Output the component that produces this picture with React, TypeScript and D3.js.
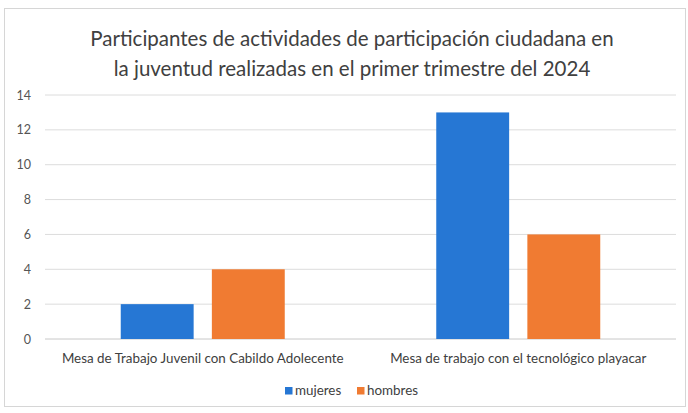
import * as d3 from "d3";
import React from "react";

const categories = [
  "Mesa de Trabajo Juvenil con Cabildo Adolecente",
  "Mesa de trabajo con el tecnológico playacar",
];
const seriesNames = ["mujeres", "hombres"];
const mujeres = [2, 13];
const hombres = [4, 6];
const yTicks = [0, 2, 4, 6, 8, 10, 12, 14];
const titleLines = [
  "Participantes de actividades de participación ciudadana en",
  "la juventud realizadas en el primer trimestre del 2024",
];

const colors = { mujeres: "#2677d4", hombres: "#f07b32" };
const font = "Lato, 'Open Sans', sans-serif";

export default function App() {
  const width = 688;
  const height = 413;
  const plot = { left: 45, right: 676, top: 95, bottom: 339 };

  const y = d3.scaleLinear().domain([0, 14]).range([plot.bottom, plot.top]);
  const x0 = d3
    .scaleBand()
    .domain(categories)
    .range([plot.left, plot.right])
    .paddingInner(0)
    .paddingOuter(0);
  const bw = x0.bandwidth();
  const x1 = d3
    .scaleBand()
    .domain(seriesNames)
    .range([bw / 2 - 82, bw / 2 + 82])
    .paddingInner(0.2);

  const values: Record<string, number[]> = { mujeres, hombres };
  const legendX = [285, 357];

  return (
    <div style={{ position: "fixed", left: 0, top: 0 }}>
      <svg width={width} height={height} style={{ display: "block", background: "#fff" }}>
        <rect x={4.5} y={8.5} width={681} height={398} fill="#fff" stroke="#d6d6d6" />
        {titleLines.map((t, i) => (
          <text
            key={i}
            x={352}
            y={46 + i * 30}
            textAnchor="middle"
            fontFamily={font}
            fontSize={20.5}
            fill="#404040"
          >
            {t}
          </text>
        ))}
        {yTicks.map((t) => (
          <g key={t}>
            <line
              x1={plot.left}
              x2={plot.right}
              y1={y(t)}
              y2={y(t)}
              stroke={t === 0 ? "#c8c8c8" : "#dcdcdc"}
              strokeWidth={1}
            />
            <text
              x={31}
              y={y(t) + 4.5}
              textAnchor="end"
              fontFamily={font}
              fontSize={12.5}
              fill="#555"
            >
              {t}
            </text>
          </g>
        ))}
        {categories.map((c, ci) => (
          <g key={c} transform={`translate(${x0(c)},0)`}>
            {seriesNames.map((s) => (
              <rect
                key={s}
                x={x1(s)}
                y={y(values[s][ci])}
                width={x1.bandwidth()}
                height={y(0) - y(values[s][ci])}
                fill={colors[s as keyof typeof colors]}
              />
            ))}
            <text
              x={bw / 2}
              y={363}
              textAnchor="middle"
              fontFamily={font}
              fontSize={13.4}
              fill="#404040"
            >
              {c}
            </text>
          </g>
        ))}
        {seriesNames.map((s, i) => {
          const lx = legendX[i];
          return (
            <g key={s}>
              <rect x={lx} y={387} width={7.5} height={7.5} fill={colors[s as keyof typeof colors]} />
              <text x={lx + 10} y={395} fontFamily={font} fontSize={13.4} fill="#404040">
                {s}
              </text>
            </g>
          );
        })}
      </svg>
    </div>
  );
}
